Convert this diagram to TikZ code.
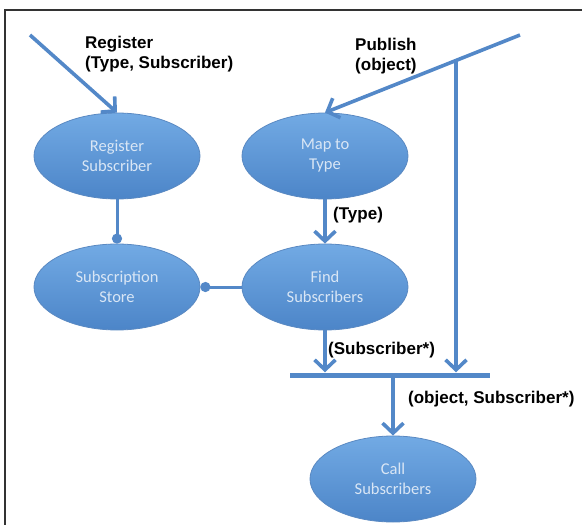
\documentclass[tikz,border=0pt]{standalone}
\usepackage{fontspec}
\setmainfont{Liberation Sans}
\newfontfamily\ovalfont{Carlito}
\usetikzlibrary{shapes.geometric,arrows.meta,calc}

\definecolor{flow}{HTML}{5388C8}
\definecolor{ovaltop}{HTML}{72AAE4}
\definecolor{ovalbot}{HTML}{4C85C8}
\definecolor{ovaledge}{HTML}{5A89C2}
\definecolor{ovaltext}{HTML}{D9E6F5}
\definecolor{framec}{HTML}{333333}

\tikzset{
  process/.style={ellipse, minimum width=166pt, minimum height=86pt, inner sep=0pt,
    top color=ovaltop, bottom color=ovalbot, draw=ovaledge, line width=0.8pt,
    text=ovaltext, align=center, font=\ovalfont\fontsize{16.5}{20}\selectfont},
  flowarrow/.style={draw=flow, line width=3.6pt,
    -{Straight Barb[length=10pt,width=21pt]}},
  storelink/.style={draw=flow, line width=3pt, -{Circle[length=10pt]}},
  msg/.style={font=\bfseries\fontsize{17}{19.5}\selectfont, text=black,
    align=left, inner sep=0pt},
  joinbar/.style={fill=flow, draw=none, minimum width=200pt, minimum height=5pt,
    inner sep=0pt, rectangle}
}

\begin{document}
\begin{tikzpicture}[x=1pt,y=-1pt]
  \useasboundingbox (0,0) rectangle (582,525);
  \fill[white] (0,0) rectangle (582,525);

  % frame edges
  \draw[framec, line width=1.5pt] (5,525) -- (5,10) -- (582,10);

  % processes
  \node[process] (reg)   at (117,156) {Register\\Subscriber};
  \node[process] (map)   at (325,156) {Map to\\Type};
  \node[process] (store) at (117,287) {Subscription\\Store};
  \node[process] (find)  at (325,287) {Find\\Subscribers};
  \node[process] (call)  at (393,479) {Call\\Subscribers};

  % join bar
  \node[joinbar] (bar) at (390,375) {};

  % free ends of incoming messages
  \coordinate (regin) at (30,35);
  \coordinate (pubin) at (520,35);
  \coordinate (pubfork) at ($(pubin)!0.328!(map.north)$);

  % connectors
  \draw[flowarrow] (regin) -- (reg.north);
  \draw[flowarrow] (pubin) -- (map.north);
  \draw[flowarrow] (pubfork) -- (pubfork |- bar.north);
  \draw[flowarrow] (map.south) -- (find.north);
  \draw[storelink] (reg.south) -- (store.north);
  \draw[storelink] (find.west) -- (store.east);
  \draw[flowarrow] (find.south) -- (find.south |- bar.north);
  \draw[flowarrow] (call.north |- bar.south) -- (call.north);

  % message labels
  \node[msg, anchor=north west] (lreg) at (85,36) {Register\\(Type, Subscriber)};
  \node[msg, anchor=north west] (lpub) at (355,38) {Publish\\(object)};
  \node[msg, anchor=west] (ltype) at (333,215) {(Type)};
  \node[msg, anchor=west] (lsubs) at (328,350) {(Subscriber*)};
  \node[msg, anchor=west] (lobj) at (408,399) {(object, Subscriber*)};
\end{tikzpicture}
\end{document}
